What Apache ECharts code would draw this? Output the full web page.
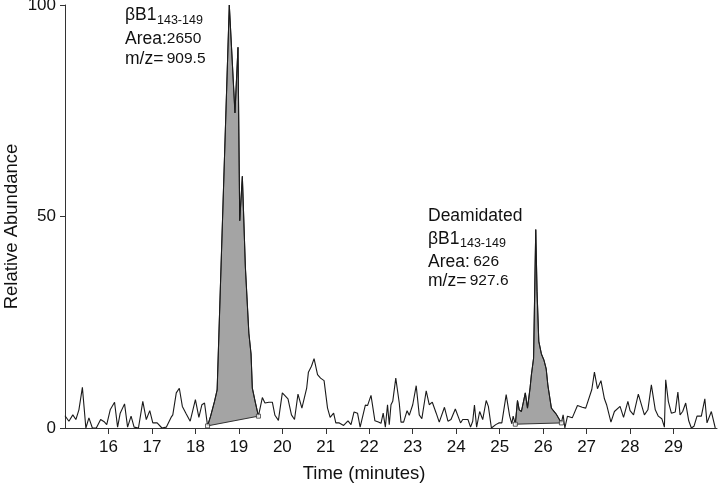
<!DOCTYPE html>
<html>
<head>
<meta charset="utf-8">
<script src="https://cdn.jsdelivr.net/npm/echarts@6/dist/echarts.min.js"></script>
<style>
html,body{margin:0;padding:0;background:#fff;}
#chart{width:720px;height:486px;}
</style>
</head>
<body>
<div id="chart"></div>
<script>
// Retention time (minutes)
const times = [
  15.00,15.09,15.18,15.25,15.32,15.40,15.48,15.55,15.63,15.72,15.82,15.91,15.96,
  16.04,16.14,16.21,16.27,16.37,16.44,16.52,16.59,16.69,16.79,16.87,16.95,
  17.02,17.12,17.23,17.33,17.44,17.48,17.56,17.63,17.70,17.79,17.88,
  18.00,18.08,18.15,18.21,18.28,18.35,18.44,18.50,18.78,18.91,18.98,
  19.02,19.08,19.15,19.23,19.28,19.31,19.38,19.45,19.54,19.60,19.69,19.77,19.83,19.91,
  20.00,20.13,20.21,20.28,20.36,20.45,20.56,20.60,20.67,20.73,20.81,20.88,20.96,
  21.04,21.10,21.18,21.23,21.31,21.41,21.51,21.58,21.65,21.73,21.79,21.91,21.96,
  22.04,22.13,22.21,22.27,22.32,22.37,22.42,22.46,22.50,22.54,22.61,22.69,22.73,22.79,22.87,22.92,
  23.00,23.08,23.15,23.21,23.31,23.38,23.45,23.54,23.61,23.73,23.81,23.88,23.98,
  24.10,24.15,24.27,24.33,24.38,24.42,24.47,24.54,24.61,24.69,24.74,24.81,24.91,24.98,
  25.05,25.15,25.23,25.28,25.31,25.36,25.41,25.45,25.50,25.59,25.64,25.70,25.73,25.78,25.83,25.86,25.90,25.96,
  26.02,26.07,26.11,26.19,26.30,26.42,26.46,26.50,26.56,26.67,26.79,26.90,26.98,
  27.12,27.18,27.25,27.33,27.41,27.46,27.56,27.64,27.77,27.85,27.95,
  28.00,28.08,28.19,28.23,28.33,28.41,28.49,28.58,28.65,28.73,28.79,28.82,28.88,28.95,
  29.04,29.10,29.15,29.21,29.28,29.35,29.41,29.47,29.54,29.64,29.72,29.77,29.87,29.96
];
// Relative abundance (%)
const abundance = [
  2.9,1.6,3.1,2.0,4.3,9.6,0,2.4,0,0,2.0,1.4,0.8,
  4.3,6.1,0.2,3.5,5.7,0.2,2.8,0.2,0,6.3,2.0,4.1,
  1.2,1.2,0,0.2,2.5,3.1,8.3,9.4,5.1,3.3,1.6,
  6.7,2.5,5.5,5.9,0.5,2.8,6.3,9.0,100,74.5,90,
  49,59.5,38,22.4,17.5,9.4,6.0,2.8,7.2,5.9,6.1,6.1,3.0,1.8,
  8.3,6.9,3.1,2.0,8.0,4.7,9.4,13.2,14.6,16.4,12.6,11.8,11.2,
  4.7,2.5,3.5,1.2,1.2,0.6,1.7,0.8,3.8,3.5,0.2,5.4,5.3,
  7.7,1.7,1.4,1.1,3.5,0.2,5.5,0.8,5.5,6.3,11.8,5.9,1.4,1.4,4.1,3.0,
  5.5,10.0,3.1,2.2,8.8,5.5,6.1,3.5,1.4,4.9,1.6,2.0,4.5,
  1.2,2.0,2.0,0.2,1.6,5.4,0.2,3.9,2.0,6.5,5.1,0,0.8,1.2,
  1.2,7.9,2.8,1.0,2.8,0.9,6.5,4.3,3.9,8.3,4.7,9.5,12.6,16.5,46.9,32.3,20.5,17.5,
  16.0,14.0,10.0,4.7,3.3,1.2,3.1,0,2.8,2.4,5.3,4.9,4.7,
  9.1,13.2,9.3,11.2,6.9,5.5,1.4,3.9,5.1,2.5,6.3,
  4.1,3.1,8.0,8.0,3.1,4.3,10.2,4.3,2.8,2.2,0.2,11.4,6.3,3.5,
  3.8,8.5,3.1,3.9,5.9,1.7,0,0.4,2.8,2.8,6.9,1.2,3.9,0
];
// Integrated peak windows [start, end] (minutes)
const peakRanges = [[18.28, 19.45], [25.36, 26.42]];
// Axis tick labels
const xTickValues = [16,17,18,19,20,21,22,23,24,25,26,27,28,29];
const yTickValues = [0, 50, 100];

const FONT = 'Liberation Sans, Arial, Helvetica, sans-serif';
const traceData = times.map((t, i) => [t, abundance[i]]);
const markerData = [];
peakRanges.forEach(r => {
  r.forEach(t => {
    const i = times.indexOf(t);
    markerData.push([t, abundance[i]]);
  });
});

const richStyles = {
  a: {fontFamily: FONT, fontSize: 17.5, fill: '#111'},
  b: {fontFamily: FONT, fontSize: 15.5, fill: '#111'}
};

const chart = echarts.init(document.getElementById('chart'), null, {renderer: 'canvas'});
chart.setOption({
  animation: false,
  backgroundColor: '#ffffff',
  grid: {left: 65, right: 3, top: 5, bottom: 58, containLabel: false, outerBoundsMode: 'none'},
  xAxis: {
    type: 'value', min: 15, max: 30,
    name: 'Time (minutes)', nameLocation: 'middle', nameGap: 36,
    nameTextStyle: {fontFamily: FONT, fontSize: 18.5, color: '#111', padding: [0, 54, 0, 0]},
    axisLine: {show: true, lineStyle: {color: '#333', width: 1}},
    axisTick: {show: true, length: 6, customValues: xTickValues, lineStyle: {color: '#333'}},
    axisLabel: {customValues: xTickValues, fontFamily: FONT, fontSize: 17, color: '#111', margin: 11},
    splitLine: {show: false}
  },
  yAxis: {
    type: 'value', min: 0, max: 100,
    name: 'Relative Abundance', nameLocation: 'middle', nameGap: 44, nameRotate: 90,
    nameMoveOverlap: false,
    nameTextStyle: {fontFamily: FONT, fontSize: 18.5, color: '#111', padding: [0, 20, 0, 0]},
    axisLine: {show: true, lineStyle: {color: '#333', width: 1}},
    axisTick: {show: true, length: 5, customValues: yTickValues, lineStyle: {color: '#333'}},
    axisLabel: {customValues: yTickValues, fontFamily: FONT, fontSize: 17, color: '#111', margin: 9},
    splitLine: {show: false}
  },
  series: [
    {
      type: 'custom',
      data: peakRanges,
      silent: true,
      z: 1,
      renderItem: function (params, api) {
        const r = peakRanges[params.dataIndex];
        const pts = [];
        for (let i = 0; i < times.length; i++) {
          if (times[i] >= r[0] - 1e-9 && times[i] <= r[1] + 1e-9) {
            pts.push(api.coord([times[i], abundance[i]]));
          }
        }
        return {
          type: 'polygon',
          shape: {points: pts},
          style: {fill: '#a4a4a4', stroke: '#333', lineWidth: 1}
        };
      }
    },
    {
      type: 'line',
      data: traceData,
      showSymbol: false,
      z: 2,
      lineStyle: {color: '#1a1a1a', width: 1.1},
      silent: true
    },
    {
      type: 'scatter',
      data: markerData,
      symbol: 'rect',
      symbolSize: 4,
      z: 3,
      itemStyle: {color: '#ffffff', borderColor: '#333', borderWidth: 1},
      silent: true
    }
  ],
  graphic: [
    {type: 'text', style: {x: 125, y: 15, text: 'βB1', font: '17.5px ' + FONT, fill: '#111', verticalAlign: 'middle'}},
    {type: 'text', style: {x: 157, y: 21, text: '143-149', font: '12.5px ' + FONT, fill: '#111', verticalAlign: 'middle'}},
    {type: 'text', style: {x: 125, y: 39, text: '{a|Area:}{b|2650}', fill: '#111', verticalAlign: 'middle', rich: richStyles}},
    {type: 'text', style: {x: 125, y: 59, text: '{a|m/z=} {b|909.5}', fill: '#111', verticalAlign: 'middle', rich: richStyles}},

    {type: 'text', style: {x: 428, y: 216, text: 'Deamidated', font: '17.5px ' + FONT, fill: '#111', verticalAlign: 'middle'}},
    {type: 'text', style: {x: 428, y: 239, text: 'βB1', font: '17.5px ' + FONT, fill: '#111', verticalAlign: 'middle'}},
    {type: 'text', style: {x: 460, y: 244, text: '143-149', font: '12.5px ' + FONT, fill: '#111', verticalAlign: 'middle'}},
    {type: 'text', style: {x: 428, y: 262, text: '{a|Area:} {b|626}', fill: '#111', verticalAlign: 'middle', rich: richStyles}},
    {type: 'text', style: {x: 428, y: 281, text: '{a|m/z=} {b|927.6}', fill: '#111', verticalAlign: 'middle', rich: richStyles}}
  ]
});
</script>
</body>
</html>
